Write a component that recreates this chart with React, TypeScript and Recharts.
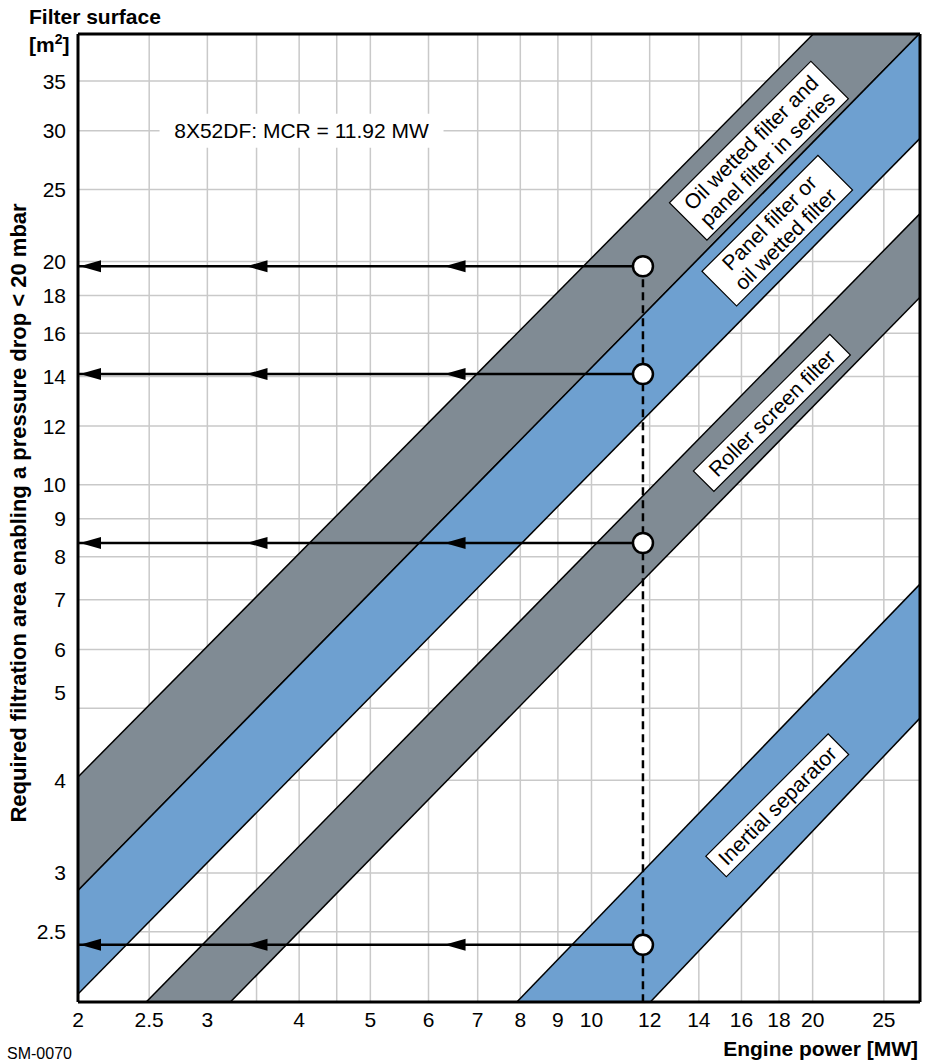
import React from 'react';
import { ComposedChart, Area, Scatter, XAxis, YAxis, CartesianGrid, ReferenceLine } from 'recharts';

const FONT = '"Liberation Sans", Arial, Helvetica, sans-serif';
const GREY = '#808b94';
const BLUE = '#6ea0d0';

// engine power [MW]; 3.5 and 4.5 only carry a grid line
const powerTicks = [2, 2.5, 3, 3.5, 4, 4.5, 5, 6, 7, 8, 9, 10, 12, 14, 16, 18, 20, 25];
const unlabelledPower = [3.5, 4.5];
const powerDomain = [2, 28];

// filter surface [m2]
const surfaceTicks = [2.5, 3, 4, 5, 6, 7, 8, 9, 10, 12, 14, 16, 18, 20, 25, 30, 35];
const surfaceDomain = [2.01, 40.5];

// band edges [lower, upper] read at both ends of the power range
const bandPower = [2, 28];
const oilAndPanel = [[2.84, 4.04], [40.6, 56.6]];
const panelOrOil = [[2.06, 2.84], [29.3, 40.6]];
const rollerScreen = [[1.24, 1.62], [17.9, 23.2]];
const inertial = [[0.31, 0.49], [4.85, 7.35]];

// 8X52DF reading (line drawn where the picture puts it)
const mcr = 11.75;
const readings = [19.7, 14.1, 8.35, 2.4];
const arrowTips = [2, 3.37, 6.27];
const mcrNote = { power: 4.03, surface: 30, text: '8X52DF: MCR = 11.92 MW' };

const bandLabels = [
  { power: 16.9, surface: 28.2, lines: ['Oil wetted filter and', 'panel filter in series'] },
  { power: 17.9, surface: 22.0, lines: ['Panel filter or', 'oil wetted filter'] },
  { power: 17.6, surface: 12.5, lines: ['Roller screen filter'] },
  { power: 17.9, surface: 3.7, lines: ['Inertial separator'] },
];

// label box sizes (width, height) along the band direction
const labelBox: Record<string, [number, number]> = {
  'Oil wetted filter and': [200, 53],
  'Panel filter or': [164, 49],
  'Roller screen filter': [193, 29],
  'Inertial separator': [173, 29],
};

const PowerTick = (props: any) => {
  const { x, y, payload } = props;
  if (unlabelledPower.includes(payload.value)) return <g />;
  return (
    <text x={x} y={y} dy="0.71em" textAnchor="middle" fontSize={21} fontFamily={FONT} fill="#000">
      {payload.value}
    </text>
  );
};

const SurfaceTick = (props: any) => {
  const { x, y, payload } = props;
  const shift = payload.value === 5 ? -16 : 0;
  return (
    <text x={x} y={y + shift} dy="0.36em" textAnchor="end" fontSize={21} fontFamily={FONT} fill="#000">
      {payload.value}
    </text>
  );
};

const ArrowHead = (props: any) => {
  const { cx, cy } = props;
  return <path d={`M${cx + 2},${cy} L${cx + 23},${cy - 6} L${cx + 23},${cy + 6} Z`} fill="#000" />;
};

const ReadingDot = (props: any) => {
  const { cx, cy } = props;
  return <circle cx={cx} cy={cy} r={10} fill="#fff" stroke="#000" strokeWidth={2.5} />;
};

const McrNote = (props: any) => {
  const { cx, cy, payload } = props;
  return (
    <g>
      <rect x={cx - 142} y={cy - 17} width={284} height={34} fill="#fff" />
      <text x={cx} y={cy} dy="0.36em" textAnchor="middle" fontSize={21} fontFamily={FONT} fill="#000">
        {payload.text}
      </text>
    </g>
  );
};

const BandLabel = (props: any) => {
  const { cx, cy, payload } = props;
  const lines: string[] = payload.lines;
  const [w, h] = labelBox[lines[0]];
  const lh = 23;
  const y0 = -((lines.length - 1) * lh) / 2;
  return (
    <g transform={`translate(${cx},${cy}) rotate(-45)`}>
      <rect x={-w / 2} y={-h / 2} width={w} height={h} fill="#fff" stroke="#000" strokeWidth={1.2} />
      {lines.map((t, i) => (
        <text key={t} x={0} y={y0 + i * lh} dy="0.36em" textAnchor="middle" fontSize={21} fontFamily={FONT} fill="#000">
          {t}
        </text>
      ))}
    </g>
  );
};

export default function App() {
  const bandRows = bandPower.map((p, i) => ({
    power: p,
    oilAndPanel: oilAndPanel[i],
    panelOrOil: panelOrOil[i],
    rollerScreen: rollerScreen[i],
    inertial: inertial[i],
  }));
  const readingPoints = readings.map((s) => ({ power: mcr, surface: s }));
  const arrowHeads = readings.flatMap((s) => arrowTips.map((p) => ({ power: p, surface: s })));
  const frame = { stroke: '#000', strokeWidth: 3 };

  return (
    <div style={{ position: 'relative', width: 926, height: 1062 }}>
      <style>{'body{margin:0}'}</style>
      <ComposedChart width={926} height={1062} data={bandRows} margin={{ top: 33, right: 5, bottom: 0, left: 0 }}>
        <CartesianGrid stroke="#c9c9c9" strokeWidth={1.5} />
        <Area dataKey="oilAndPanel" type="linear" fill={GREY} fillOpacity={1} stroke="#000" strokeWidth={1.5} isAnimationActive={false} />
        <Area dataKey="panelOrOil" type="linear" fill={BLUE} fillOpacity={1} stroke="#000" strokeWidth={1.5} isAnimationActive={false} />
        <Area dataKey="rollerScreen" type="linear" fill={GREY} fillOpacity={1} stroke="#000" strokeWidth={1.5} isAnimationActive={false} />
        <Area dataKey="inertial" type="linear" fill={BLUE} fillOpacity={1} stroke="#000" strokeWidth={1.5} isAnimationActive={false} />
        {readings.map((s) => (
          <ReferenceLine key={s} segment={[{ x: powerDomain[0], y: s }, { x: mcr, y: s }]} stroke="#000" strokeWidth={2.5} />
        ))}
        <ReferenceLine
          segment={[{ x: mcr, y: readings[0] }, { x: mcr, y: surfaceDomain[0] }]}
          stroke="#000"
          strokeWidth={2.5}
          strokeDasharray="8 5"
        />
        <XAxis
          dataKey="power"
          type="number"
          scale="log"
          domain={powerDomain}
          allowDataOverflow
          ticks={powerTicks}
          interval={0}
          tick={<PowerTick />}
          tickLine={false}
          tickSize={0}
          tickMargin={10}
          height={60}
          axisLine={frame}
        />
        <XAxis xAxisId="top" orientation="top" type="number" scale="log" domain={powerDomain} allowDataOverflow tick={false} tickLine={false} height={1} axisLine={frame} />
        <YAxis
          type="number"
          scale="log"
          domain={surfaceDomain}
          allowDataOverflow
          ticks={surfaceTicks}
          interval={0}
          tick={<SurfaceTick />}
          tickLine={false}
          tickSize={0}
          tickMargin={12}
          width={78}
          axisLine={frame}
        />
        <YAxis yAxisId="right" orientation="right" type="number" scale="log" domain={surfaceDomain} allowDataOverflow tick={false} tickLine={false} width={1} axisLine={frame} />
        <Scatter data={arrowHeads} dataKey="surface" shape={ArrowHead} isAnimationActive={false} />
        <Scatter data={readingPoints} dataKey="surface" shape={ReadingDot} isAnimationActive={false} />
        <Scatter data={[mcrNote]} dataKey="surface" shape={McrNote} isAnimationActive={false} />
        <Scatter data={bandLabels} dataKey="surface" shape={BandLabel} isAnimationActive={false} />
      </ComposedChart>
      <svg width={926} height={1062} style={{ position: 'absolute', left: 0, top: 0, pointerEvents: 'none' }} fontFamily={FONT}>
        <text x={29} y={24} fontSize={21} fontWeight="bold">Filter surface</text>
        <text x={29} y={52} fontSize={21} fontWeight="bold">
          [m<tspan fontSize={14} dy={-8}>2</tspan>
          <tspan dy={8}>]</tspan>
        </text>
        <text transform="translate(26,513) rotate(-90)" textAnchor="middle" fontSize={22} fontWeight="bold">
          Required filtration area enabling a pressure drop &lt; 20 mbar
        </text>
        <text x={918} y={1056} textAnchor="end" fontSize={21} fontWeight="bold">Engine power [MW]</text>
        <text x={7} y={1059} fontSize={16}>SM-0070</text>
      </svg>
    </div>
  );
}
